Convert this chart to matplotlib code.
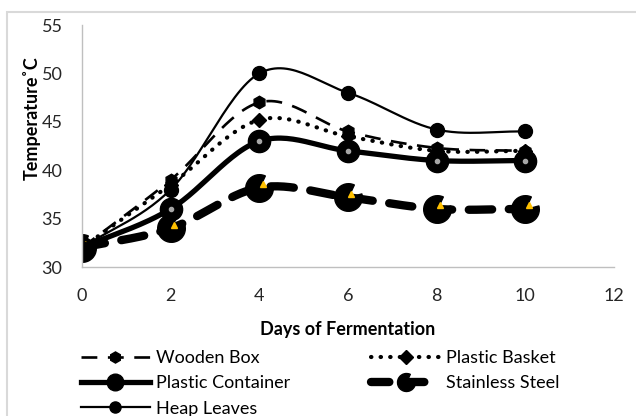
import numpy as np
import matplotlib.pyplot as plt
from matplotlib.lines import Line2D
from matplotlib.patches import Rectangle
from matplotlib.path import Path
from matplotlib.transforms import ScaledTranslation

plt.rcParams['font.family'] = ['Lato', 'DejaVu Sans']

days = [0, 2, 4, 6, 8, 10]
wooden_box = [32, 39, 47, 44, 42.3, 42]
plastic_basket = [32, 38.5, 45.2, 43.5, 42, 42]
plastic_container = [32, 36, 43, 42, 41, 41]
stainless_steel = [32, 34, 38.2, 37.2, 36, 36]
heap_leaves = [32, 38, 50, 48, 44.2, 44]


def smooth(x, y, n=30):
    # catmull-rom curve through the points, like excel's smoothed line
    x = np.asarray(x, float)
    y = np.asarray(y, float)
    px = np.concatenate([[2 * x[0] - x[1]], x, [2 * x[-1] - x[-2]]])
    py = np.concatenate([[2 * y[0] - y[1]], y, [2 * y[-1] - y[-2]]])
    xs, ys = [], []
    t = np.linspace(0, 1, n)
    for i in range(1, len(px) - 2):
        for p, out in ((px, xs), (py, ys)):
            p0, p1, p2, p3 = p[i - 1], p[i], p[i + 1], p[i + 2]
            out.extend(0.5 * ((2 * p1) + (-p0 + p2) * t
                              + (2 * p0 - 5 * p1 + 4 * p2 - p3) * t ** 2
                              + (-p0 + 3 * p1 - 3 * p2 + p3) * t ** 3))
    return xs, ys


pacman = Path.wedge(65, 375)

fig = plt.figure(figsize=(6.36, 4.16), dpi=100)
fig.patches.append(Rectangle((7 / 636, -0.1), 1.2, 1 - 12 / 416 + 0.1,
                             transform=fig.transFigure, fill=False,
                             edgecolor='#D9D9D9', linewidth=1.5))
ax = fig.add_axes([82 / 636, 1 - 267 / 416, (614 - 82) / 636, (267 - 25) / 416])
shift = ax.transData + ScaledTranslation(2.5 / 72, 2.5 / 72, fig.dpi_scale_trans)

# wooden box
xs, ys = smooth(days, wooden_box)
ax.plot(xs, ys, color='black', lw=1.9, dashes=(6, 4))
ax.plot(days, wooden_box, ls='none', marker='h', ms=9, color='black')

# plastic basket
xs, ys = smooth(days, plastic_basket)
ax.plot(xs, ys, color='black', lw=3, dashes=(0.1, 2.2), dash_capstyle='round')
ax.plot(days, plastic_basket, ls='none', marker='D', ms=7, color='black')

# plastic container
xs, ys = smooth(days, plastic_container)
ax.plot(xs, ys, color='black', lw=3.8, solid_capstyle='round')
ax.plot(days, plastic_container, ls='none', marker='o', ms=16, color='black')
ax.plot(days, plastic_container, ls='none', marker='o', ms=3, color='#A6A6A6')

# stainless steel
xs, ys = smooth(days, stainless_steel)
ax.plot(xs, ys, color='black', lw=6, dashes=(2.8, 2.0), dash_capstyle='round')
ax.plot(days, stainless_steel, ls='none', marker=pacman, ms=20, color='black')
ax.plot(days, stainless_steel, ls='none', marker='^', ms=4.5, color='#FFC000',
        transform=shift)

# heap leaves
xs, ys = smooth(days, heap_leaves)
ax.plot(xs, ys, color='black', lw=1.6)
ax.plot(days, heap_leaves, ls='none', marker='o', ms=10, color='black')

ax.set_xlim(0, 12)
ax.set_ylim(30, 55)
ax.set_xticks(range(0, 13, 2))
ax.set_yticks(range(30, 56, 5))
for s in ['top', 'right']:
    ax.spines[s].set_visible(False)
for s in ['left', 'bottom']:
    ax.spines[s].set_color('#BFBFBF')
    ax.spines[s].set_linewidth(1)
ax.tick_params(length=0, labelsize=13, colors='#262626', pad=15)
ax.tick_params(axis='y', pad=14)
ax.set_xlabel('Days of Fermentation', fontsize=13, fontweight='bold', labelpad=12)
ax.set_ylabel('Temperature˚C', fontsize=13, fontweight='bold')
ax.yaxis.set_label_coords(-0.078, 0.615)

handles = [
    Line2D([], [], color='black', lw=1.9, dashes=(6, 4), marker='h', ms=8),
    Line2D([], [], color='black', lw=3.8, marker='o', ms=12, markerfacecolor='black'),
    Line2D([], [], color='black', lw=1.6, marker='o', ms=8),
    Line2D([], [], color='black', lw=3, dashes=(0.1, 2.2), dash_capstyle='round', marker='D', ms=7),
    Line2D([], [], color='black', lw=6, dashes=(2.2, 2.0), dash_capstyle='round', marker=pacman,
           ms=13, markerfacecolor='black'),
]
labels = ['Wooden Box', 'Plastic Container', 'Heap Leaves', 'Plastic Basket', 'Stainless Steel']
fig.legend(handles, labels, ncol=2, loc='upper left', bbox_to_anchor=(72 / 636, 1 - 341 / 416),
           frameon=False, fontsize=13, handlelength=3.8, handletextpad=0.35,
           columnspacing=4.5, labelspacing=0.52, borderpad=0)

plt.savefig('out.png', dpi=100)
